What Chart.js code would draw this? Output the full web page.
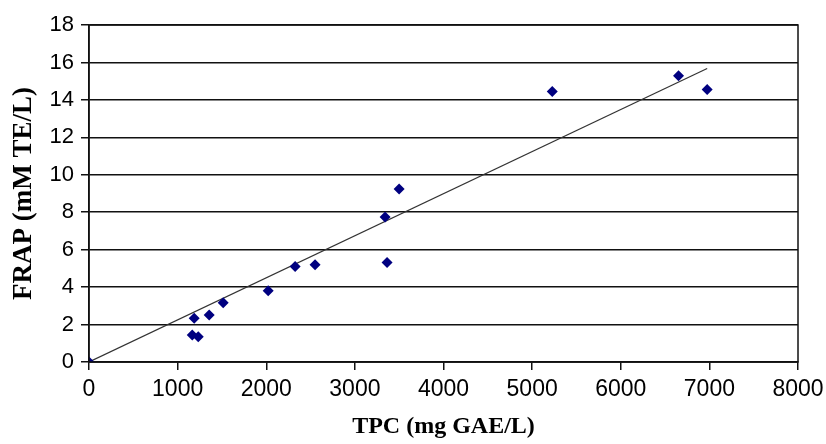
<!DOCTYPE html>
<html>
<head>
<meta charset="utf-8">
<script src="https://cdn.jsdelivr.net/npm/chart.js@4"></script>
<style>
html,body{margin:0;padding:0;background:#fff}
#wrap{width:826px;height:444px}
</style>
</head>
<body>
<div id="wrap"><canvas id="frapChart" width="826" height="444"></canvas></div>
<script>
// TPC (mg GAE/L) vs FRAP (mM TE/L)
const tpc = [0, 1165, 1187, 1233, 1356, 1514, 2022, 2326, 2551, 3341, 3363, 3499, 5227, 6652, 6975]
const frap = [0, 1.44, 2.34, 1.35, 2.51, 3.17, 3.81, 5.10, 5.19, 7.74, 5.31, 9.24, 14.45, 15.29, 14.55]

// linear trend line end points
const trendX = [0, 6975]
const trendY = [0, 15.68]

const xTicks = [0, 1000, 2000, 3000, 4000, 5000, 6000, 7000, 8000]
const yTicks = [0, 2, 4, 6, 8, 10, 12, 14, 16, 18]

const points = tpc.map((x, i) => ({x: x, y: frap[i]}))
const trend = trendX.map((x, i) => ({x: x, y: trendY[i]}))

// plot area box (top + right border like the original)
const boxPlugin = {
id: "box",
afterDraw(chart){
const a = chart.chartArea
const c = chart.ctx
c.save()
c.strokeStyle = "#111"
c.lineWidth = 1.5
c.strokeRect(a.left, a.top, a.right - a.left, a.bottom - a.top)
c.restore()
}
}

const ctx = document.getElementById("frapChart")

new Chart(ctx, {
type: "scatter",
data: {
datasets: [
{
label: "FRAP",
data: points,
pointStyle: "rectRot",
pointRadius: 5.5,
pointHoverRadius: 5.5,
backgroundColor: "#000080",
borderColor: "#000080",
borderWidth: 0,
order: 1
},
{
label: "Trend",
type: "line",
data: trend,
borderColor: "#333",
borderWidth: 1.2,
pointRadius: 0,
fill: false,
order: 2
}
]
},
options: {
responsive: false,
animation: false,
layout: {padding: {left: 0, right: 0, top: 25, bottom: 0}},
plugins: {
legend: {display: false},
tooltip: {enabled: false}
},
scales: {
x: {
type: "linear",
min: 0,
max: 8000,
afterBuildTicks: s => { s.ticks = xTicks.map(v => ({value: v})) },
afterFit: s => { s.height = 82; s.paddingRight = 28 },
grid: {drawOnChartArea: false, drawTicks: true, tickLength: 8, color: "#111", lineWidth: 1.5},
border: {display: true, color: "#111", width: 1.5},
ticks: {color: "#000", font: {family: "Liberation Sans", size: 23}, padding: 6, maxRotation: 0, callback: v => String(v)},
title: {display: true, text: "TPC (mg GAE/L)", color: "#000", font: {family: "Liberation Serif", size: 24, weight: "bold"}, padding: {top: 4, bottom: 3}}
},
y: {
type: "linear",
min: 0,
max: 18,
afterBuildTicks: s => { s.ticks = yTicks.map(v => ({value: v})) },
afterFit: s => { s.width = 89 },
grid: {drawTicks: true, tickLength: 8, color: "#111", lineWidth: 1.5},
border: {display: true, color: "#111", width: 1.5},
ticks: {color: "#000", font: {family: "Liberation Sans", size: 22}, padding: 7, callback: v => String(v)},
title: {display: true, text: "FRAP (mM TE/L)", color: "#000", font: {family: "Liberation Serif", size: 27, weight: "bold"}, padding: {top: 8, bottom: 8}}
}
}
},
plugins: [boxPlugin]
})
</script>
</body>
</html>
